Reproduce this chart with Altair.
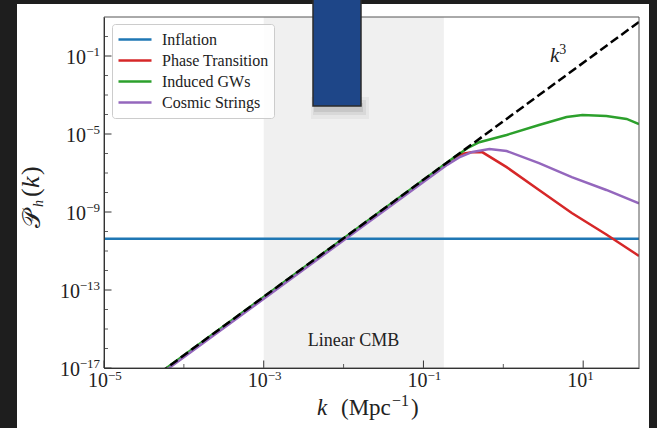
import altair as alt
import pandas as pd

# ---------------- data ----------------
names = ["Inflation", "Phase Transition", "Induced GWs", "Cosmic Strings"]
colors = ["#1f77b4", "#d62728", "#2ca02c", "#9467bd"]

inflation_k = [1e-5, 50.0]
inflation_P = [4.2e-11, 4.2e-11]

pt_k = [5e-5, 0.1, 0.2, 0.3, 0.4, 0.55, 1.1, 2.8, 7.2, 19.5, 50.0]
pt_P = [5.0e-18, 4.0e-8, 3.2e-7, 9.5e-7, 1.15e-6, 1.15e-6, 2.0e-7, 1.35e-8, 8.9e-10, 7.0e-11, 5.6e-12]

igw_k = [5e-5, 0.126, 0.25, 0.355, 0.5, 1.1, 2.8, 6.2, 9.8, 19.5, 35.0, 50.0]
igw_P = [5.6e-18, 8.9e-8, 7.1e-7, 1.86e-6, 3.8e-6, 8.9e-6, 2.9e-5, 7.4e-5, 9.3e-5, 8.3e-5, 5.9e-5, 3.2e-5]

cs_k = [5e-5, 0.1, 0.2, 0.28, 0.41, 0.67, 1.1, 2.8, 7.2, 19.5, 50.0]
cs_P = [4.5e-18, 3.5e-8, 2.7e-7, 6.3e-7, 1.2e-6, 1.7e-6, 1.35e-6, 3.2e-7, 6.2e-8, 1.35e-8, 2.75e-9]

k3_k = [5e-5, 50.0]
k3_P = [5.6e-18, 5.6]

shade_k = [1e-3, 0.18]
x_domain = [1e-5, 50.0]
y_domain = [1e-17, 10.0]

x_major = [1e-5, 1e-3, 1e-1, 1e1]
x_major_exps = ["−5", "−3", "−1", "1"]
x_minor = [1e-4, 1e-2, 1e0]
y_major = [1e-17, 1e-13, 1e-9, 1e-5, 1e-1]
y_major_exps = ["−17", "−13", "−9", "−5", "−1"]
y_minor = [1e-16, 1e-15, 1e-14, 1e-12, 1e-11, 1e-10, 1e-8, 1e-7, 1e-6, 1e-4, 1e-3, 1e-2, 1e0]

cmb_text, cmb_k, cmb_P = ["Linear CMB"], [0.0133], [1.35e-16]
k3_label_k, k3_label_P = [4.87], [0.049]

# ---------------- helpers ----------------
SERIF = "Liberation Serif"
INK = "#222"
W, H = 535, 351

xs = alt.Scale(type="log", domain=x_domain, nice=False)
ys = alt.Scale(type="log", domain=y_domain, nice=False)

x_axis = alt.Axis(values=x_major, labels=False, ticks=False, grid=False, domainColor="#333",
                  domainWidth=1, title=None, zindex=1)
y_axis = alt.Axis(values=y_major, labels=False, ticks=False, grid=False, domainColor="#333",
                  domainWidth=1, title=None, zindex=1)


def X(f):
    return alt.X(f, scale=xs, axis=x_axis, title=None)


def Y(f):
    return alt.Y(f, scale=ys, axis=y_axis, title=None)


one = pd.DataFrame({"d": [0]})


def txt(text, x, y, size, italic=False, align="left", angle=None, dy=0):
    kw = dict(text=text, font=SERIF, fontSize=size, color=INK, align=align,
              baseline="alphabetic", dy=dy)
    if italic:
        kw["fontStyle"] = "italic"
    if angle is not None:
        kw["angle"] = angle
    return alt.Chart(one).mark_text(**kw).encode(x=alt.value(x), y=alt.value(y))


rows = []
for name, ks, ps in [(names[0], inflation_k, inflation_P), (names[1], pt_k, pt_P),
                     (names[2], igw_k, igw_P), (names[3], cs_k, cs_P)]:
    for i, (k, p) in enumerate(zip(ks, ps)):
        rows.append({"series": name, "k": k, "P": p, "i": i})
lines_df = pd.DataFrame(rows)

# figure background (white sheet on dark screen)
sheet = alt.Chart(one).mark_rect(color="white").encode(
    x=alt.value(-87), x2=alt.value(545), y=alt.value(-13), y2=alt.value(411))

shade = alt.Chart(pd.DataFrame({"k": [shade_k[0]], "k1": [shade_k[1]],
                                "P": [y_domain[0]], "P1": [y_domain[1]]})).mark_rect(
    color="#f0f0f0").encode(x=X("k:Q"), x2="k1:Q", y=Y("P:Q"), y2="P1:Q")

lines = alt.Chart(lines_df).mark_line(strokeWidth=2.5, clip=True).encode(
    x=X("k:Q"),
    y=Y("P:Q"),
    color=alt.Color("series:N", scale=alt.Scale(domain=names, range=colors),
                    legend=alt.Legend(title=None, orient="none", legendX=8, legendY=7,
                                      symbolType="stroke", symbolSize=1089, symbolStrokeWidth=2.5,
                                      labelFont=SERIF, labelFontSize=16, labelColor=INK,
                                      labelOffset=9, padding=5, strokeColor="#cccccc",
                                      cornerRadius=3, fillColor="rgba(255,255,255,0.85)",
                                      clipHeight=21, rowPadding=0, zindex=2)),
    detail="series:N",
    order="i:Q")

k3 = alt.Chart(pd.DataFrame({"k": k3_k, "P": k3_P})).mark_line(
    color="black", strokeDash=[9, 4], strokeWidth=2.5, clip=True).encode(x=X("k:Q"), y=Y("P:Q"))

cmb = alt.Chart(pd.DataFrame({"t": cmb_text, "k": cmb_k, "P": cmb_P})).mark_text(
    font=SERIF, fontSize=18, color=INK, align="center", baseline="alphabetic").encode(
    x=X("k:Q"), y=Y("P:Q"), text="t:N")

k3_df = pd.DataFrame({"k": k3_label_k, "P": k3_label_P})
k3_base = alt.Chart(k3_df).mark_text(text="k", font=SERIF, fontSize=21, fontStyle="italic",
                                     color=INK, align="right", baseline="alphabetic", dx=1).encode(
    x=X("k:Q"), y=Y("P:Q"))
k3_exp = alt.Chart(k3_df).mark_text(text="3", font=SERIF, fontSize=14, color=INK, align="left",
                                    baseline="alphabetic", dx=1, dy=-8).encode(
    x=X("k:Q"), y=Y("P:Q"))

# tick labels: "10" plus raised exponent
xl_df = pd.DataFrame({"k": x_major, "e": x_major_exps})
xl_base = alt.Chart(xl_df).mark_text(text="10", font=SERIF, fontSize=20, color=INK, align="right",
                                     baseline="alphabetic", dx=4).encode(
    x=X("k:Q"), y=alt.value(H + 19))
xl_exp = alt.Chart(xl_df).mark_text(font=SERIF, fontSize=13, color=INK, align="left",
                                    baseline="alphabetic", dx=4).encode(
    x=X("k:Q"), y=alt.value(H + 12), text="e:N")

yl_df = pd.DataFrame({"P": y_major, "e": y_major_exps})
yl_exp = alt.Chart(yl_df).mark_text(font=SERIF, fontSize=13, color=INK, align="right",
                                    baseline="alphabetic", dx=-4, dy=0).encode(
    y=Y("P:Q"), x=alt.value(0), text="e:N")
yl_base2 = alt.Chart(yl_df).transform_filter("length(datum.e) == 2").mark_text(
    text="10", font=SERIF, fontSize=20, color=INK, align="right", baseline="alphabetic",
    dx=-18, dy=8).encode(y=Y("P:Q"), x=alt.value(0))
yl_base3 = alt.Chart(yl_df).transform_filter("length(datum.e) == 3").mark_text(
    text="10", font=SERIF, fontSize=20, color=INK, align="right", baseline="alphabetic",
    dx=-24, dy=8).encode(y=Y("P:Q"), x=alt.value(0))

# inward ticks
xmaj = alt.Chart(pd.DataFrame({"k": x_major})).mark_rule(color="#333", strokeWidth=1).encode(
    x=X("k:Q"), y=alt.value(H), y2=alt.value(H - 7.5))
xmin = alt.Chart(pd.DataFrame({"k": x_minor})).mark_rule(color="#333", strokeWidth=0.8).encode(
    x=X("k:Q"), y=alt.value(H), y2=alt.value(H - 4))
ymaj = alt.Chart(pd.DataFrame({"P": y_major})).mark_rule(color="#333", strokeWidth=1).encode(
    y=Y("P:Q"), x=alt.value(0), x2=alt.value(7.5))
ymin = alt.Chart(pd.DataFrame({"P": y_minor})).mark_rule(color="#333", strokeWidth=0.8).encode(
    y=Y("P:Q"), x=alt.value(0), x2=alt.value(4))

frame = alt.Chart(one).mark_rect(filled=False, stroke="#555", strokeWidth=1).encode(
    x=alt.value(0), x2=alt.value(W), y=alt.value(0), y2=alt.value(H))

# axis titles
xtitle = [
    txt("k", 213, 398, 23, italic=True),
    txt("(Mpc", 237, 398, 23),
    txt("−1", 288, 389, 16),
    txt(")", 307, 398, 23),
]
ytitle = [
    txt("𝒫", -64, 211, 25, angle=270),
    txt("h", -61, 190, 14, italic=True, angle=270),
    txt("(", -65, 180, 26, angle=270),
    txt("k", -65, 171, 26, italic=True, angle=270),
    txt(")", -65, 158, 26, angle=270),
]

# overlay box with soft shadow
shadow1 = alt.Chart(one).mark_rect(color="black", opacity=0.04).encode(
    x=alt.value(207), x2=alt.value(265), y=alt.value(80), y2=alt.value(102))
shadow2 = alt.Chart(one).mark_rect(color="black", opacity=0.06).encode(
    x=alt.value(209), x2=alt.value(262), y=alt.value(83), y2=alt.value(98))
shadow3 = alt.Chart(one).mark_rect(color="black", opacity=0.08).encode(
    x=alt.value(210), x2=alt.value(259), y=alt.value(86), y2=alt.value(95))
box = alt.Chart(one).mark_rect(color="#1e4688", stroke="#2b2b2b", strokeWidth=1.5).encode(
    x=alt.value(209), x2=alt.value(257), y=alt.value(-20), y2=alt.value(89))

chart = alt.layer(
    sheet, shade, lines, k3, cmb, k3_base, k3_exp, xmaj, xmin, ymaj, ymin, frame,
    xl_base, xl_exp, yl_exp, yl_base2, yl_base3, *xtitle, *ytitle,
    shadow1, shadow2, shadow3, box
).properties(
    width=W, height=H,
    padding={"left": 104, "top": 17, "right": 18, "bottom": 60},
    autosize=alt.AutoSizeParams(type="none"),
    background="#1e1e1e",
).configure_view(stroke=None)

chart.save("out.html", embed_options={"renderer": "svg", "actions": False})
